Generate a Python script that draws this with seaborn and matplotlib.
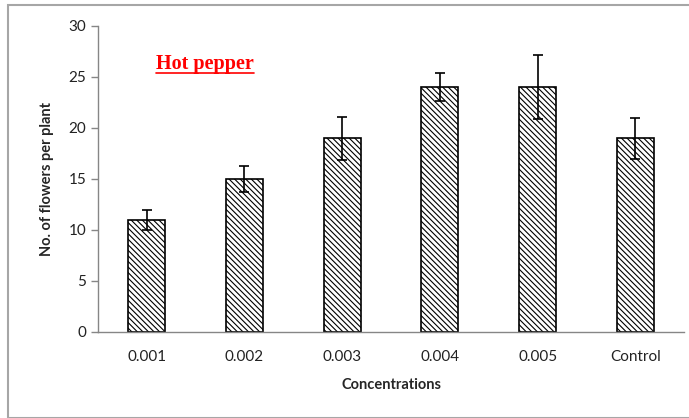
import matplotlib
matplotlib.use("Agg")
import matplotlib.pyplot as plt
from matplotlib.patches import Rectangle
from matplotlib.lines import Line2D
import numpy as np
import pandas as pd
import seaborn as sns

# values
concentrations = ["0.001", "0.002", "0.003", "0.004", "0.005", "Control"]
flowers = [11, 15, 19, 24, 24, 19]
flowers_err = [1.0, 1.3, 2.1, 1.4, 3.1, 2.0]

df = pd.DataFrame({"conc": concentrations, "flowers": flowers})

sns.set_style("white")
plt.rcParams["font.family"] = ["Lato", "DejaVu Sans"]
plt.rcParams["hatch.linewidth"] = 0.8

fig = plt.figure(figsize=(6.89, 4.18), dpi=100)
ax = fig.add_axes([0.142, 0.206, 0.851, 0.732])

sns.barplot(data=df, x="conc", y="flowers", color="white", edgecolor="black",
            linewidth=1.2, width=0.38, errorbar=None, saturation=1, ax=ax)
for bar in ax.patches:
    bar.set_hatch("\\\\\\\\\\\\")

ax.errorbar(np.arange(len(flowers)), flowers, yerr=flowers_err, fmt="none",
            ecolor="black", elinewidth=1.2, capsize=3.5, capthick=1.2)

ax.set_ylim(0, 30)
ax.set_yticks(range(0, 31, 5))
ax.set_xlim(-0.5, len(concentrations) - 0.5)

# ticks sit between the categories, labels centred under the bars
ax.set_xticks(np.arange(-0.5, len(concentrations)), minor=True)
ax.tick_params(axis="x", which="major", length=0, pad=13, labelsize=11, colors="#222222")
ax.tick_params(axis="x", which="minor", length=5, width=1, color="#868686", direction="out")
ax.tick_params(axis="y", length=5, width=1, color="#868686", direction="out",
               labelsize=11, labelcolor="#222222", left=True)

for side in ["top", "right"]:
    ax.spines[side].set_visible(False)
for side in ["left", "bottom"]:
    ax.spines[side].set_color("#868686")
    ax.spines[side].set_linewidth(1)

ax.set_xlabel("Concentrations", fontsize=10.5, fontweight="bold", labelpad=10)
ax.set_ylabel("No. of flowers per plant", fontsize=10.5, fontweight="bold", labelpad=10)

# red underlined title inside the plot
title = ax.text(0.1, 0.876, "Hot pepper", transform=ax.transAxes, color="#ff0000",
                fontsize=14.5, fontweight="bold", family=["Liberation Serif", "DejaVu Serif"],
                ha="left", va="center")
fig.canvas.draw()
bb = title.get_window_extent().transformed(fig.transFigure.inverted())
fig.add_artist(Line2D([bb.x0, bb.x1], [bb.y0 + 0.002, bb.y0 + 0.002], color="#ff0000",
                      linewidth=1.2, transform=fig.transFigure))

# grey frame around the chart
fig.patches.append(Rectangle((0.012, 0.0), 0.99, 0.988, transform=fig.transFigure,
                             fill=False, edgecolor="#a6a6a6", linewidth=1.5))

fig.savefig("out.png", dpi=100)
